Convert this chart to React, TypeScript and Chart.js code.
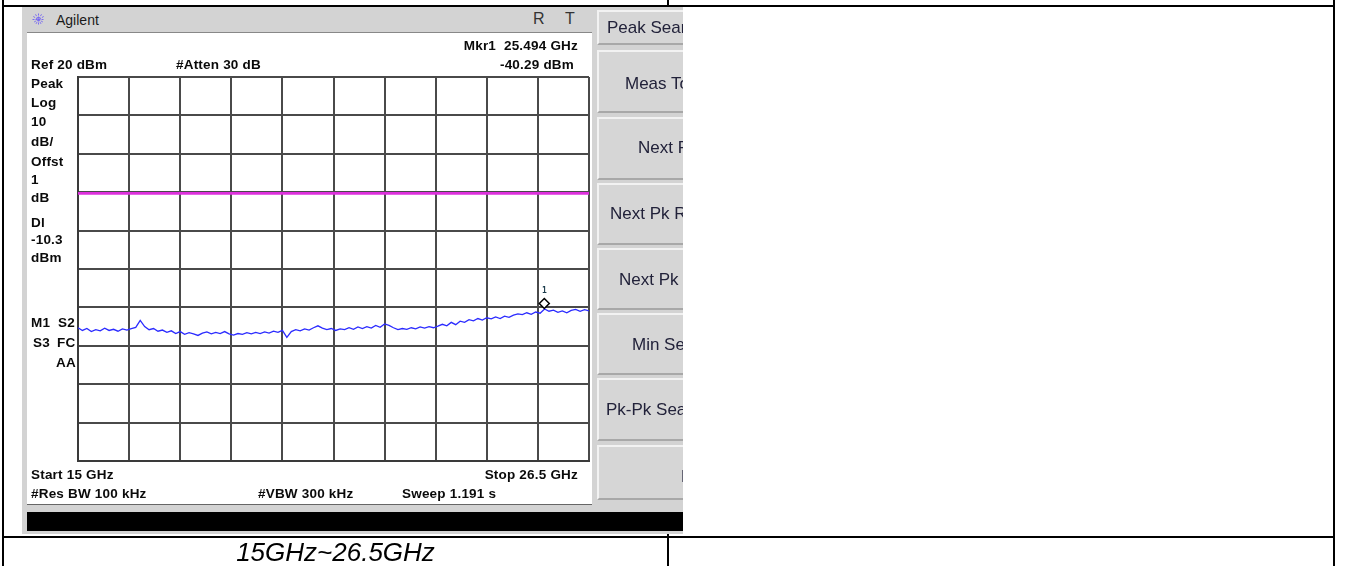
import React, { useEffect, useRef } from "react";
import { Chart, registerables } from "chart.js";
Chart.register(...registerables);

// ---- data ----
const freqGHz = [
  15.0, 15.1, 15.2, 15.3, 15.4, 15.5, 15.6, 15.7, 15.8, 15.9,
  16.0, 16.1, 16.2, 16.3, 16.4, 16.5, 16.6, 16.7, 16.8, 16.9,
  17.0, 17.1, 17.2, 17.3, 17.4, 17.5, 17.6, 17.7, 17.8, 17.9,
  18.0, 18.1, 18.2, 18.3, 18.4, 18.5, 18.6, 18.7, 18.8, 18.9,
  19.0, 19.1, 19.2, 19.3, 19.4, 19.5, 19.6, 19.7, 19.8, 19.9,
  20.0, 20.1, 20.2, 20.3, 20.4, 20.5, 20.6, 20.7, 20.8, 20.9,
  21.0, 21.1, 21.2, 21.3, 21.4, 21.5, 21.6, 21.7, 21.8, 21.9,
  22.0, 22.1, 22.2, 22.3, 22.4, 22.5, 22.6, 22.7, 22.8, 22.9,
  23.0, 23.1, 23.2, 23.3, 23.4, 23.5, 23.6, 23.7, 23.8, 23.9,
  24.0, 24.1, 24.2, 24.3, 24.4, 24.5, 24.6, 24.7, 24.8, 24.9,
  25.0, 25.1, 25.2, 25.3, 25.4, 25.5, 25.6, 25.7, 25.8, 25.9,
  26.0, 26.1, 26.2, 26.3, 26.4, 26.5,
];
const levelDbm = [
  -45.3, -46.0, -45.5, -46.3, -45.8, -46.1, -45.4, -46.0, -45.7, -46.2,
  -45.6, -45.9, -45.5, -45.2, -43.4, -45.0, -45.8, -45.5, -46.2, -45.9,
  -46.5, -46.1, -46.8, -46.3, -47.0, -46.6, -46.9, -47.3, -46.7, -46.4,
  -46.9, -46.5, -46.8, -46.3, -46.9, -47.2, -46.8, -47.0, -46.6, -46.9,
  -46.5, -46.8, -46.4, -46.7, -46.2, -46.5, -46.0, -47.8, -46.3, -45.8,
  -46.1, -45.6, -45.9, -45.3, -44.8, -45.4, -45.8, -45.5, -46.0, -45.6,
  -45.8, -45.3, -45.7, -45.1, -45.5, -45.0, -45.4, -44.7, -45.2, -44.3,
  -44.7, -45.3, -45.8, -45.5, -45.7, -45.3, -45.6, -45.1, -45.4, -45.0,
  -45.3, -44.9, -44.4, -44.8, -43.9, -44.5, -43.6, -43.9, -43.2, -43.5,
  -42.9, -43.3, -42.7, -43.0, -42.5, -42.9, -42.3, -42.6, -42.0, -41.7,
  -41.9, -41.4, -41.8, -41.2, -41.5, -40.4, -41.0, -40.7, -41.3, -40.9,
  -41.4, -40.8, -40.5, -41.0, -40.6, -40.9,
];
const xGridGHz = [15, 16.15, 17.3, 18.45, 19.6, 20.75, 21.9, 23.05, 24.2, 25.35, 26.5];
const yGridDbm = [20, 10, 0, -10, -20, -30, -40, -50, -60, -70, -80];
const displayLineDbm = -10.3;
const markerFreqGHz = 25.494;
const markerLevelDbm = -40.29;

const leftLabels = ["Peak", "Log", "10", "dB/", "Offst", "1", "dB", "Dl", "-10.3", "dBm"];
const leftLabelY = [84, 103, 122, 142, 162, 180, 198, 223, 240, 258];
const softkeys = ["Peak Search", "Meas Tools", "Next Peak", "Next Pk Right", "Next Pk Left", "Min Search", "Pk-Pk Search", "More"];
const softkeyX = [607, 625, 638, 610, 619, 632, 606, 681];
const softkeyY = [28, 84, 148, 214, 280, 345, 410, 477];
const softkeyTop = [10, 50, 117, 183, 248, 313, 378, 445];
const softkeyBottom = [45, 113, 180, 245, 310, 375, 441, 500];

const FONT = "'Liberation Sans', Arial, Helvetica, sans-serif";

const markerPlugin = {
  id: "markerPlugin",
  afterDatasetsDraw(chart: any) {
    const { ctx, scales } = chart;
    const px = scales.x.getPixelForValue(markerFreqGHz);
    const py = scales.y.getPixelForValue(markerLevelDbm);
    const cy = py - 5;
    ctx.save();
    ctx.beginPath();
    ctx.moveTo(px, cy - 5);
    ctx.lineTo(px + 5, cy);
    ctx.lineTo(px, cy + 5);
    ctx.lineTo(px - 5, cy);
    ctx.closePath();
    ctx.fillStyle = "#ffffff";
    ctx.fill();
    ctx.lineWidth = 1.5;
    ctx.strokeStyle = "#000000";
    ctx.stroke();
    ctx.fillStyle = "#1a3a4a";
    ctx.font = "bold 8px 'DejaVu Sans Mono', monospace";
    ctx.textAlign = "center";
    ctx.textBaseline = "middle";
    ctx.fillText("1", px, cy - 13);
    ctx.restore();
  },
};

function Txt(props: { x?: number; r?: number; y: number; text: string; size?: number; weight?: any; color?: string; italic?: boolean; ls?: number }) {
  const size = props.size ?? 13.5;
  const lh = size + 4;
  const style: any = {
    position: "absolute",
    top: props.y - lh / 2,
    height: lh,
    lineHeight: lh + "px",
    fontFamily: FONT,
    fontSize: size,
    fontWeight: props.weight ?? "bold",
    fontStyle: props.italic ? "italic" : "normal",
    color: props.color ?? "#0a0a0a",
    whiteSpace: "pre",
    letterSpacing: props.ls ?? 0.2,
  };
  if (props.r !== undefined) style.right = 1346 - props.r;
  else style.left = props.x;
  return <div style={style}>{props.text}</div>;
}

export default function App() {
  const canvasRef = useRef<HTMLCanvasElement>(null);
  useEffect(() => {
    const canvas = canvasRef.current;
    if (!canvas) return;
    const chart = new Chart(canvas, {
      type: "line",
      data: {
        datasets: [
          {
            label: "Trace",
            data: freqGHz.map((f, i) => ({ x: f, y: levelDbm[i] })),
            borderColor: "#2b2bff",
            borderWidth: 1.3,
            pointRadius: 0,
            tension: 0,
          },
          {
            label: "Display line",
            data: [
              { x: xGridGHz[0], y: displayLineDbm },
              { x: xGridGHz[xGridGHz.length - 1], y: displayLineDbm },
            ],
            borderColor: "#dd30dd",
            borderWidth: 2.6,
            pointRadius: 0,
          },
        ],
      },
      options: {
        animation: false,
        responsive: false,
        devicePixelRatio: 1,
        layout: { padding: { left: 51, top: 44, right: 3, bottom: 44 } },
        plugins: { legend: { display: false }, tooltip: { enabled: false } },
        scales: {
          x: {
            type: "linear",
            min: xGridGHz[0],
            max: xGridGHz[xGridGHz.length - 1],
            afterBuildTicks: (s: any) => {
              s.ticks = xGridGHz.map((v) => ({ value: v }));
            },
            ticks: { display: false },
            grid: { drawTicks: false, color: "#4a4a4a", lineWidth: 2 },
            border: { display: true, color: "#3a3a3a", width: 2 },
          },
          y: {
            type: "linear",
            min: yGridDbm[yGridDbm.length - 1],
            max: yGridDbm[0],
            afterBuildTicks: (s: any) => {
              s.ticks = yGridDbm.map((v) => ({ value: v }));
            },
            ticks: { display: false },
            grid: { drawTicks: false, color: "#4a4a4a", lineWidth: 2 },
            border: { display: true, color: "#3a3a3a", width: 2 },
          },
        },
      },
      plugins: [markerPlugin],
    } as any);
    return () => chart.destroy();
  }, []);

  const black = "#000";
  return (
    <div style={{ position: "absolute", left: 0, top: 0, width: 1346, height: 566, background: "#fff", overflow: "hidden" }}>
      {/* table borders */}
      <div style={{ position: "absolute", left: 2, top: 0, width: 2, height: 566, background: black }} />
      <div style={{ position: "absolute", left: 667, top: 0, width: 2, height: 566, background: black }} />
      <div style={{ position: "absolute", left: 1333, top: 0, width: 2, height: 566, background: black }} />
      <div style={{ position: "absolute", left: 2, top: 5, width: 1333, height: 2, background: black }} />
      <div style={{ position: "absolute", left: 2, top: 536, width: 1333, height: 2, background: black }} />
      {/* screenshot background */}
      <div style={{ position: "absolute", left: 22, top: 7, width: 661, height: 527, background: "#d3d3d3" }} />
      {/* title bar */}
      <svg style={{ position: "absolute", left: 31, top: 12 }} width={15} height={15} viewBox="0 0 15 15">
        {[0, 30, 60, 90, 120, 150].map((a) => {
          const r = (a * Math.PI) / 180;
          return (
            <line key={a} x1={7.5 - 6 * Math.cos(r)} y1={7.5 - 6 * Math.sin(r)} x2={7.5 + 6 * Math.cos(r)} y2={7.5 + 6 * Math.sin(r)} stroke="#7a6cf0" strokeWidth={1} strokeDasharray="2 1" />
          );
        })}
      </svg>
      <Txt x={56} y={20} text="Agilent" size={14} weight="normal" color="#1a1a1a" ls={0} />
      <Txt x={533} y={19} text="R" size={16} weight="normal" color="#333" ls={0} />
      <Txt x={565} y={19} text="T" size={16} weight="normal" color="#333" ls={0} />
      {/* white panel */}
      <div style={{ position: "absolute", left: 27, top: 32, width: 565, height: 473, background: "#fff", borderTop: "1px solid #888", borderBottom: "1px solid #666", boxSizing: "border-box" }} />
      <canvas ref={canvasRef} width={565} height={472} style={{ position: "absolute", left: 27, top: 33, width: 565, height: 472 }} />
      {/* panel text */}
      <Txt r={578} y={46} text="Mkr1  25.494 GHz" />
      <Txt x={31} y={65} text="Ref 20 dBm" />
      <Txt x={176} y={65} text="#Atten 30 dB" />
      <Txt r={574} y={65} text="-40.29 dBm" />
      {leftLabels.map((t, i) => (
        <Txt key={t + i} x={31} y={leftLabelY[i]} text={t} />
      ))}
      <Txt x={31} y={323} text="M1" />
      <Txt x={58} y={323} text="S2" />
      <Txt x={33} y={343} text="S3" />
      <Txt x={57} y={343} text="FC" />
      <Txt x={56} y={363} text="AA" />
      <Txt x={31} y={475} text="Start 15 GHz" />
      <Txt r={578} y={475} text="Stop 26.5 GHz" />
      <Txt x={31} y={494} text="#Res BW 100 kHz" />
      <Txt x={258} y={494} text="#VBW 300 kHz" />
      <Txt x={402} y={494} text="Sweep 1.191 s" />
      {/* black status bar */}
      <div style={{ position: "absolute", left: 27, top: 512, width: 656, height: 19, background: "#000" }} />
      {/* softkeys */}
      <div style={{ position: "absolute", left: 594, top: 7, width: 89, height: 500, overflow: "hidden" }}>
        {softkeys.map((s, i) => (
          <div key={s}>
            <div
              style={{
                position: "absolute",
                left: 3,
                top: softkeyTop[i] - 7,
                width: 100,
                height: softkeyBottom[i] - softkeyTop[i],
                background: "#d6d6d6",
                borderTop: "2px solid #f2f2f2",
                borderLeft: "2px solid #f2f2f2",
                borderBottom: "2px solid #a8a8a8",
                boxSizing: "border-box",
              }}
            />
            <div
              style={{
                position: "absolute",
                left: softkeyX[i] - 594,
                top: softkeyY[i] - 7 - 11,
                height: 22,
                lineHeight: "22px",
                fontFamily: FONT,
                fontSize: 17,
                color: "#22223a",
                whiteSpace: "pre",
              }}
            >
              {s}
            </div>
          </div>
        ))}
      </div>
      {/* caption */}
      <div
        style={{
          position: "absolute",
          left: 4,
          width: 663,
          top: 538,
          height: 28,
          lineHeight: "28px",
          textAlign: "center",
          fontFamily: FONT,
          fontStyle: "italic",
          fontSize: 26,
          color: "#000",
        }}
      >
        15GHz~26.5GHz
      </div>
    </div>
  );
}
